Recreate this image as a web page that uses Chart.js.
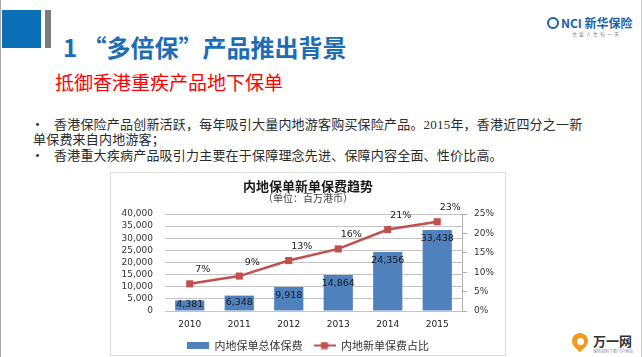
<!DOCTYPE html>
<html><head><meta charset="utf-8">
<script src="https://cdn.jsdelivr.net/npm/chart.js@4/dist/chart.umd.min.js"></script>
<style>
html,body{margin:0;padding:0;background:#fff;}
body{width:642px;height:357px;position:relative;overflow:hidden;font-family:"Noto Sans CJK SC","Noto Sans",sans-serif;}
.abs{position:absolute;white-space:nowrap;}
#edgeL{left:0;top:0;width:1px;height:357px;background:#a8a8a8;}
#edgeR{left:641px;top:0;width:1px;height:357px;background:#c8c8c8;}
#sq{left:2px;top:10px;width:39px;height:38px;background:#0b6fb8;}
#bar{left:45px;top:10px;width:6px;height:38px;background:#7a7c80;}
#title{left:63px;top:35px;font-size:24px;line-height:24px;font-weight:bold;color:#1c6db5;}
#sub{left:55px;top:72px;font-size:19px;line-height:19px;color:#ff0000;}
.body{font-size:13px;line-height:13px;color:#2a2a2a;letter-spacing:0.2px;}
.serif{font-family:"Liberation Serif",serif;}
#box{left:110px;top:172px;width:396px;height:184px;box-sizing:border-box;border:1px solid #dedede;background:#fff;}
#chartwrap{position:absolute;left:0;top:0;width:394px;height:188px;}
#logo1{left:547px;top:16px;font-size:12px;line-height:14px;font-weight:bold;color:#1d5fa8;}
#logo1 .ring{display:inline-block;width:8px;height:8px;border:2px solid #1d5fa8;border-radius:50%;vertical-align:-1px;margin-right:2px;}
#logo1s{left:572px;top:31px;font-size:5px;line-height:6px;color:#888;letter-spacing:2px;}
#logo2{left:593px;top:334px;font-size:13px;line-height:14px;font-weight:bold;color:#333;}
#logo2s{left:593px;top:349px;font-size:4px;line-height:5px;color:#888;}
#heart{left:572px;top:333px;width:16px;height:16px;border-radius:50% 50% 50% 0;background:#f29a1c;transform:rotate(-45deg);}
#heart2{left:577px;top:338px;width:7px;height:7px;border-radius:50%;background:#fff;}
</style></head>
<body>
<div class="abs" id="edgeL"></div>
<div class="abs" id="edgeR"></div>
<div class="abs" id="sq"></div>
<div class="abs" id="bar"></div>
<div class="abs" id="title">1 “多倍保”产品推出背景</div>
<div class="abs" id="sub">抵御香港重疾产品地下保单</div>
<div class="abs" id="logo1"><span class="ring"></span>NCI 新华保险</div>
<div class="abs" id="logo1s">关爱人生每一天</div>
<div class="abs body" style="left:31px;top:117px;">•</div>
<div class="abs body" style="left:54px;top:117px;">香港保险产品创新活跃，每年吸引大量内地游客购买保险产品。<span class="serif">2015</span>年，香港近四分之一新</div>
<div class="abs body" style="left:33px;top:132px;">单保费来自内地游客；</div>
<div class="abs body" style="left:31px;top:148px;">•</div>
<div class="abs body" style="left:54px;top:148px;">香港重大疾病产品吸引力主要在于保障理念先进、保障内容全面、性价比高。</div>
<div class="abs" id="box"><div id="chartwrap"><canvas id="c" width="394" height="188"></canvas></div></div>
<div class="abs" id="heart"></div>
<div class="abs" id="heart2"></div>
<div class="abs" id="logo2">万一网</div>
<div class="abs" id="logo2s">保险资料下载门户网站</div>
<script>
const categories = ['2010','2011','2012','2013','2014','2015'];
const premiumValues = [4381, 6348, 9918, 14864, 24356, 33438];
const shareValues = [0.07, 0.09, 0.13, 0.16, 0.21, 0.23];
const seriesNames = ['内地保单总体保费','内地新单保费占比'];
const chartTitle = '内地保单新单保费趋势';
const chartSubtitle = '（单位：百万港币）';

const BAR_COLOR = '#4F81BD';
const LINE_COLOR = '#C0504D';
const TICK_FONT = {family:'"DejaVu Sans", Verdana, sans-serif', size:9, lineHeight:1};
const LABEL_FONT = '9.5px "DejaVu Sans", Verdana, sans-serif';

function barSwatch(){
  const c = document.createElement('canvas'); c.width = 22; c.height = 7;
  const x = c.getContext('2d'); x.fillStyle = BAR_COLOR; x.fillRect(0,0,22,7); return c;
}
function lineSwatch(){
  const c = document.createElement('canvas'); c.width = 22; c.height = 8;
  const x = c.getContext('2d'); x.strokeStyle = LINE_COLOR; x.lineWidth = 2;
  x.beginPath(); x.moveTo(0,4); x.lineTo(22,4); x.stroke();
  x.fillStyle = LINE_COLOR; x.fillRect(7.5,0.5,7,7); return c;
}

const labelPlugin = {
  id:'valueLabels',
  afterDatasetsDraw(chart){
    const ctx = chart.ctx;
    ctx.save();
    ctx.font = LABEL_FONT;
    ctx.fillStyle = '#1a1a1a';
    ctx.textAlign = 'center';
    ctx.textBaseline = 'middle';
    const barMeta = chart.getDatasetMeta(0);
    barMeta.data.forEach((el, i) => {
      const h = el.base - el.y;
      const y = el.y + Math.min(9, h/2 - 1);
      ctx.fillText(premiumValues[i].toLocaleString('en-US'), el.x, y);
    });
    const lineMeta = chart.getDatasetMeta(1);
    lineMeta.data.forEach((el, i) => {
      ctx.fillText(Math.round(shareValues[i]*100) + '%', el.x + 13, el.y - 14);
    });
    ctx.restore();
  }
};

new Chart(document.getElementById('c'), {
  data: {
    labels: categories,
    datasets: [
      {type:'bar', label:seriesNames[0], data:premiumValues, backgroundColor:BAR_COLOR, yAxisID:'y',
       barPercentage:0.59, categoryPercentage:1, order:1},
      {type:'line', label:seriesNames[1], data:shareValues, borderColor:LINE_COLOR, backgroundColor:LINE_COLOR,
       borderWidth:2.5, pointStyle:'rect', pointRadius:5, pointBackgroundColor:LINE_COLOR, pointBorderColor:LINE_COLOR,
       pointBorderWidth:0, tension:0, yAxisID:'y1', order:0}
    ]
  },
  options: {
    responsive:false, animation:false, devicePixelRatio:1,
    layout:{padding:{left:0,right:0,top:0,bottom:0}},
    plugins:{
      tooltip:{enabled:false},
      title:{display:true, text:chartTitle, color:'#1a1a1a',
        font:{family:'"Noto Sans CJK SC", sans-serif', size:13, weight:'bold', lineHeight:1},
        padding:{top:6.5,bottom:0}},
      subtitle:{display:true, text:chartSubtitle, color:'#444',
        font:{family:'"Noto Sans CJK SC", sans-serif', size:10, lineHeight:1},
        padding:{top:0.5,bottom:11}},
      legend:{display:true, position:'bottom',
        labels:{usePointStyle:true, pointStyleWidth:22, padding:11, color:'#333',
          font:{family:'"Noto Sans CJK SC", sans-serif', size:11},
          generateLabels(){
            return [
              {text:seriesNames[0], pointStyle:barSwatch(), fillStyle:BAR_COLOR, strokeStyle:BAR_COLOR, lineWidth:0, datasetIndex:0, fontColor:'#333'},
              {text:seriesNames[1], pointStyle:lineSwatch(), fillStyle:LINE_COLOR, strokeStyle:LINE_COLOR, lineWidth:0, datasetIndex:1, fontColor:'#333'}
            ];
          }}}
    },
    scales:{
      x:{grid:{display:false, drawTicks:false}, border:{display:false},
        ticks:{color:'#222', font:TICK_FONT, padding:9},
        afterFit(s){ s.height = s.height - 9; }},
      y:{position:'left', min:0, max:40000,
        ticks:{stepSize:5000, autoSkip:false, color:'#333', font:TICK_FONT, padding:12,
          callback:v => v.toLocaleString('en-US')},
        grid:{color:'#c4c4c4', lineWidth:1, drawTicks:false}, border:{display:false},
        afterFit(s){ s.width = 54; }},
      y1:{position:'right', min:0, max:0.25,
        ticks:{stepSize:0.05, autoSkip:false, color:'#333', font:TICK_FONT, padding:7,
          callback:v => Math.round(v*100) + '%'},
        grid:{drawOnChartArea:false, drawTicks:true, tickLength:5, color:'#b0b0b0'},
        border:{display:true, color:'#b0b0b0', width:1},
        afterFit(s){ s.width = 43; }}
    }
  },
  plugins:[labelPlugin]
});
</script>
</body></html>
